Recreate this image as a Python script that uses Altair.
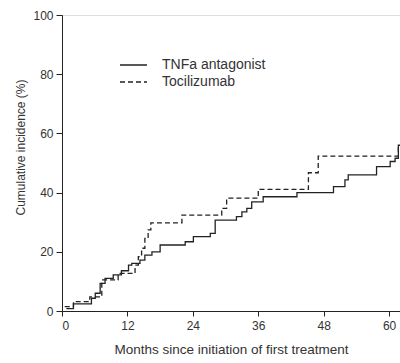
import altair as alt
import pandas as pd

series_names = ["TNFa antagonist", "Tocilizumab"]

tnf_t = [0.8, 2.1, 5.4, 6.1, 7.0, 7.9, 9.4, 10.9, 12.2, 12.8, 14.3, 15.2, 16.5, 18.0,
         22.6, 24.1, 27.2, 28.1, 32.0, 33.0, 33.9, 34.8, 36.9, 43.1, 49.8, 51.9,
         52.5, 57.7, 60.2, 61.1, 61.7, 62.0]
tnf_v = [0.8, 2.4, 4.3, 6.0, 9.3, 11.0, 12.2, 13.6, 15.5, 16.1, 17.2, 18.9, 20.0, 22.3,
         23.4, 25.1, 26.2, 30.7, 31.9, 33.5, 34.7, 36.9, 38.6, 40.0, 42.0, 44.3,
         46.0, 48.8, 50.5, 51.6, 56.0, 56.0]

toc_t = [0.5, 2.1, 5.1, 7.3, 10.3, 13.4, 14.0, 14.6, 15.2, 15.8, 16.3, 22.0, 29.3,
         30.2, 36.0, 45.2, 47.0, 61.7, 62.0]
toc_v = [1.5, 3.2, 4.8, 10.5, 12.7, 15.5, 18.4, 21.2, 24.5, 27.4, 29.8, 32.4, 34.7,
         38.1, 41.1, 46.7, 52.3, 55.5, 55.5]

x_ticks = [0, 12, 24, 36, 48, 60]
y_ticks = [0, 20, 40, 60, 80, 100]

df = pd.concat([
    pd.DataFrame({"t": tnf_t, "v": tnf_v, "series": series_names[0]}),
    pd.DataFrame({"t": toc_t, "v": toc_v, "series": series_names[1]}),
])

FONT = "Liberation Sans"
TXT = "#333333"
LINE = "#222222"

dash = alt.StrokeDash("series:N",
                      scale=alt.Scale(domain=series_names, range=[[1, 0], [5, 3]]),
                      legend=None)

lines = alt.Chart(df).mark_line(
    interpolate="step-after", color=LINE, strokeWidth=1.3, clip=True
).encode(
    x=alt.X("t:Q", scale=alt.Scale(domain=[0, 62], nice=False),
            axis=alt.Axis(values=x_ticks, title="Months since initiation of first treatment",
                          grid=False, tickSize=5, labelPadding=4, titlePadding=11,
                          labelFontSize=12, titleFontSize=13.5, labelFont=FONT, titleFont=FONT,
                          labelColor=TXT, titleColor=TXT, titleFontWeight="normal",
                          domainColor=LINE, tickColor=LINE)),
    y=alt.Y("v:Q", scale=alt.Scale(domain=[0, 100], nice=False),
            axis=alt.Axis(values=y_ticks, title="Cumulative incidence (%)",
                          grid=False, tickSize=6, labelPadding=3, titlePadding=5,
                          titleY=132,
                          labelFontSize=12, titleFontSize=12, labelFont=FONT, titleFont=FONT,
                          labelColor=TXT, titleColor=TXT, titleFontWeight="normal",
                          domainColor=LINE, tickColor=LINE)),
    strokeDash=dash,
)

leg_df = pd.DataFrame({"series": series_names})
layers = [lines]
for i, name in enumerate(series_names):
    ypix = 50 + 17 * i
    base = alt.Chart(leg_df).transform_filter(alt.datum.series == name)
    layers.append(base.mark_rule(color=LINE, strokeWidth=1.3).encode(
        x=alt.value(58), x2=alt.value(85), y=alt.value(ypix), strokeDash=dash))
    layers.append(base.mark_text(align="left", baseline="middle", font=FONT,
                                 fontSize=14, color=TXT).encode(
        x=alt.value(100), y=alt.value(ypix), text="series:N"))

chart = alt.layer(*layers).properties(
    width=338, height=296,
    autosize=alt.AutoSizeParams(type="none"),
    padding={"left": 62, "top": 15, "right": 0, "bottom": 52},
).configure_view(stroke=None).configure(background="white")

chart.save("out.html", embed_options={"renderer": "svg", "actions": False})
